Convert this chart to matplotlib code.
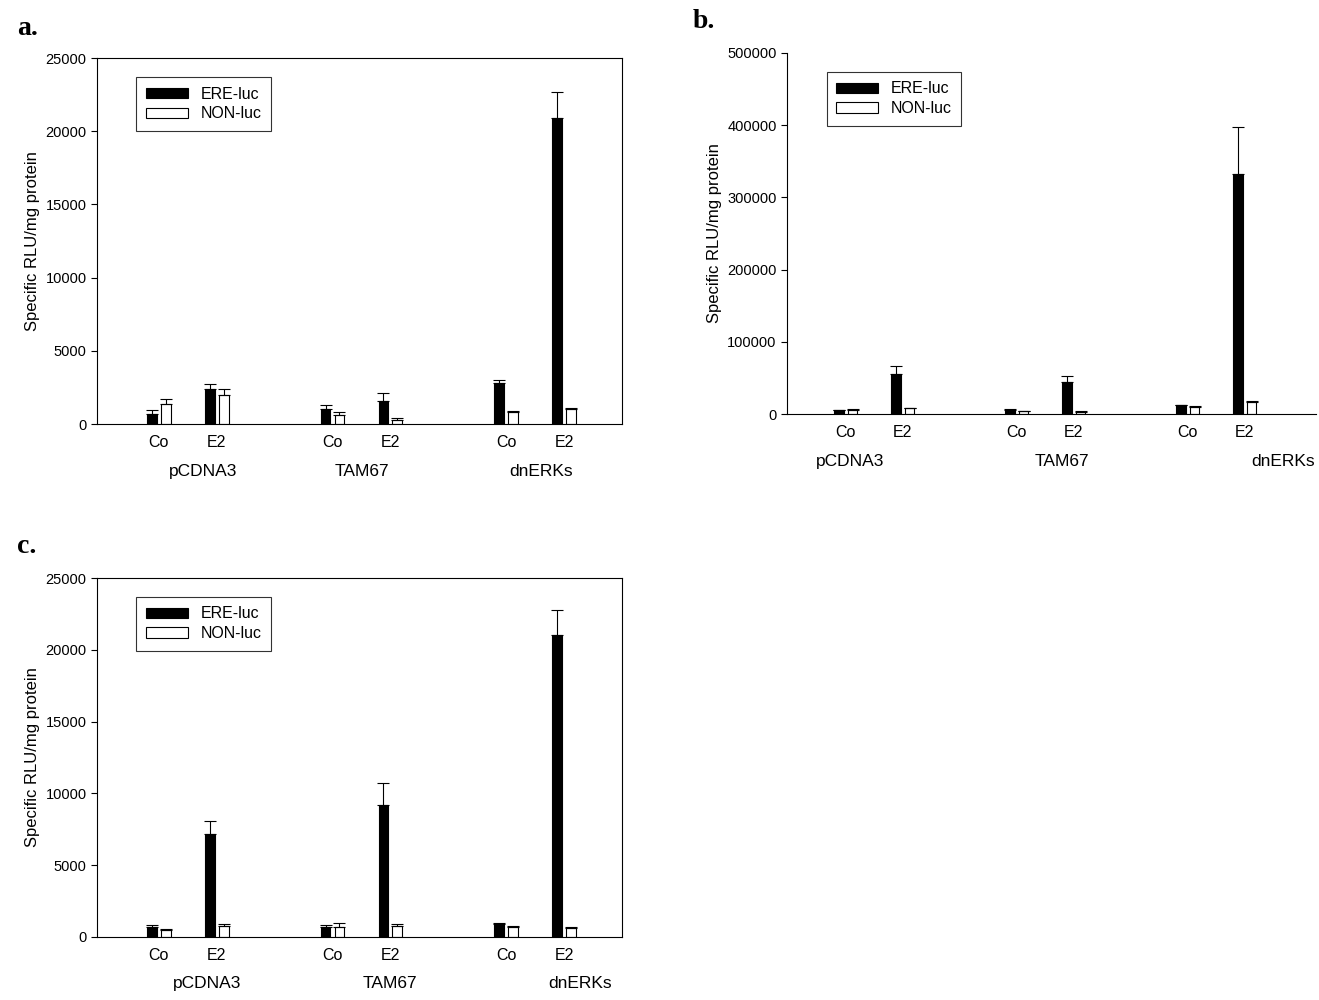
import matplotlib
matplotlib.use("Agg")
import matplotlib.pyplot as plt
import numpy as np

plt.rcParams['font.family'] = ['Liberation Sans', 'DejaVu Sans']

conditions = ["Co", "E2", "Co", "E2", "Co", "E2"]
groups = ["pCDNA3", "TAM67", "dnERKs"]

a_ere = [700, 2400, 1000, 1600, 2800, 20900]
a_ere_err = [250, 300, 300, 500, 200, 1800]
a_non = [1400, 2000, 600, 300, 800, 1000]
a_non_err = [300, 400, 200, 100, 80, 100]

b_ere = [5000, 55000, 6000, 45000, 12000, 333000]
b_ere_err = [800, 11000, 800, 7000, 1000, 64000]
b_non = [6000, 8000, 4000, 3000, 10000, 16000]
b_non_err = [800, 1000, 600, 500, 1500, 2000]

c_ere = [700, 7200, 700, 9200, 900, 21000]
c_ere_err = [150, 900, 150, 1500, 80, 1800]
c_non = [500, 800, 700, 800, 700, 600]
c_non_err = [60, 100, 250, 100, 80, 80]

fig = plt.figure(figsize=(13.19, 10), dpi=100)

def panel(rect, ere, ere_err, non, non_err, ymax, ystep, pos, xlim, glab_pos, glab_y, letter, letter_xy, box=True):
    ax = fig.add_axes(rect)
    pos = np.array(pos, float)
    w = 0.17
    ax.bar(pos - 0.12, ere, w, color='black', edgecolor='black', linewidth=0.8, label='ERE-luc', zorder=2)
    ax.bar(pos + 0.12, non, w, color='white', edgecolor='black', linewidth=0.8, label='NON-luc', zorder=2)
    ax.errorbar(pos - 0.12, ere, yerr=[np.zeros(6), ere_err], fmt='none', ecolor='black', elinewidth=0.8, capsize=4, capthick=0.8)
    ax.errorbar(pos + 0.12, non, yerr=[np.zeros(6), non_err], fmt='none', ecolor='black', elinewidth=0.8, capsize=4, capthick=0.8)
    ax.set_ylim(0, ymax)
    ax.set_xlim(*xlim)
    ax.set_yticks(np.arange(0, ymax + 1, ystep))
    ax.tick_params(axis='y', labelsize=10.5, direction='out', length=4)
    ax.set_xticks(pos)
    ax.set_xticklabels(conditions, fontsize=11.5)
    ax.tick_params(axis='x', length=0, pad=8)
    ax.set_ylabel('Specific RLU/mg protein', fontsize=12)
    for g, gx in zip(groups, glab_pos):
        ax.text(gx, glab_y, g, transform=ax.get_xaxis_transform(), ha='center', va='top', fontsize=12.5)
    if not box:
        ax.spines['top'].set_visible(False)
        ax.spines['right'].set_visible(False)
    leg = ax.legend(loc='upper left', bbox_to_anchor=(0.06, 0.97), fontsize=11.5, frameon=True,
                    fancybox=False, edgecolor='black', handlelength=2.6, handleheight=0.6,
                    borderpad=0.6, labelspacing=0.3)
    leg.get_frame().set_linewidth(0.8)
    fig.text(letter_xy[0], letter_xy[1], letter, fontsize=20, fontweight='bold', family='Liberation Serif')
    return ax

panel([0.0735, 0.576, 0.398, 0.366], a_ere, a_ere_err, a_non, a_non_err, 25000, 5000,
      [0, 1, 3, 4, 6, 7], (-1.07, 8.0), [0.76, 3.5, 6.6], -0.11, 'a.', (0.013, 0.965))
panel([0.5967, 0.586, 0.401, 0.361], b_ere, b_ere_err, b_non, b_non_err, 500000, 100000,
      [0, 1, 3, 4, 6, 7], (-1.03, 8.25), [0.07, 3.79, 7.67], -0.11, 'b.', (0.525, 0.972), box=False)
panel([0.0735, 0.063, 0.398, 0.359], c_ere, c_ere_err, c_non, c_non_err, 25000, 5000,
      [0, 1, 3, 4, 6, 7], (-1.07, 8.0), [0.83, 4.0, 7.27], -0.11, 'c.', (0.013, 0.447))

fig.savefig('out.png', dpi=100)
